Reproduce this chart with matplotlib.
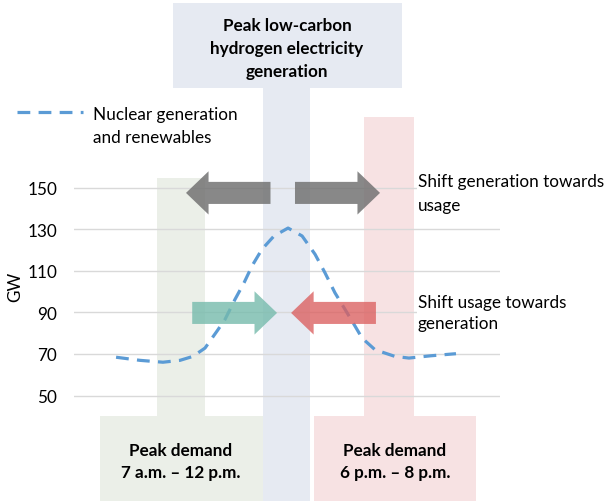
import matplotlib
matplotlib.use('Agg')
import matplotlib.pyplot as plt
from matplotlib.patches import Rectangle, FancyArrow

plt.rcParams['font.family'] = ['Lato', 'DejaVu Sans']

# nuclear generation + renewables (GW) across the day
hours = [2.37, 3.72, 5.01, 5.97, 6.70, 7.38, 8.06, 8.51, 9.07, 9.58, 10.03,
         10.59, 11.27, 12.06, 12.85, 13.58, 14.14, 14.70, 15.27, 15.83,
         16.23, 16.96, 18.08, 18.87, 20.11, 21.52]
gw = [68.4, 66.9, 66, 66.9, 68.8, 72.8, 81, 86.6, 96.2, 104.2, 112.3,
      120.3, 126.7, 130.5, 126.7, 117.9, 109, 99.4, 91.4, 83.4,
      77.6, 72, 68.8, 68, 69.1, 70.1]
yticks = [50, 70, 90, 110, 130, 150]

green_band = '#EBEFE8'
blue_band = '#E6EAF2'
red_band = '#F7E2E3'
line_col = '#5B9BD5'
dash = (0, (4, 2.6))

fig = plt.figure(figsize=(6.06, 5.02), dpi=100)
ax = fig.add_axes([74/606, 84.7/502, 426/606, 249.6/502])
ax.set_xlim(0, 24)
ax.set_ylim(40, 160)

# background bands + label boxes (spill over the axes area)
def rect(x0, x1, y0, y1, c):
  ax.add_patch(Rectangle((x0, y0), x1 - x0, y1 - y0, facecolor=c,
                         edgecolor='none', clip_on=False, zorder=0))

rect(4.68, 7.38, -1, 154.6, green_band)
rect(1.49, 10.62, -1, 40.3, green_band)
rect(10.65, 13.30, -1, 198.3, blue_band)
rect(5.58, 18.48, 197.8, 238.7, blue_band)
rect(16.34, 19.15, -1, 183.9, red_band)
rect(13.52, 22.65, -1, 40.3, red_band)

for t in yticks:
  ax.axhline(t, color='#D9D9D9', lw=1, zorder=1)

ax.plot(hours, gw, color=line_col, lw=2.3, ls=dash, zorder=2)

def arrow(x0, x1, y, c, a):
  ax.add_patch(FancyArrow(x0, y, x1 - x0, 0, width=10.6, head_width=20.8,
                          head_length=1.27, length_includes_head=True,
                          facecolor=c, edgecolor='none', alpha=a,
                          clip_on=False, zorder=3))

arrow(11.07, 6.31, 147.4, '#737373', 0.85)
arrow(12.45, 17.24, 147.4, '#737373', 0.85)
arrow(6.66, 11.44, 89.7, '#76BBAC', 0.8)
arrow(17.01, 12.23, 89.7, '#DB5F5F', 0.78)

fs = 12.3
ax.text(19.38, 147.2, 'Shift generation towards\nusage', fontsize=fs,
        ha='left', va='center', linespacing=1.6, zorder=4,
        bbox=dict(facecolor='white', edgecolor='none', pad=0.5))
ax.text(19.38, 89.8, 'Shift usage towards\ngeneration', fontsize=fs,
        ha='left', va='center', linespacing=1.4, zorder=4,
        bbox=dict(facecolor='white', edgecolor='none', pad=0.5))

ax.plot([-3.21, 0.51], [186.3, 186.3], color=line_col, lw=2.3, ls=dash,
        clip_on=False)
ax.text(1.07, 179.8, 'Nuclear generation\nand renewables', fontsize=fs,
        ha='left', va='center', linespacing=1.5)

ax.text(12.0, 217.2, 'Peak low-carbon\nhydrogen electricity\ngeneration',
        fontsize=fs, fontweight='bold', ha='center', va='center',
        linespacing=1.55)
ax.text(6.03, 18.5, 'Peak demand\n7 a.m. – 12 p.m.', fontsize=fs,
        fontweight='bold', ha='center', va='center', linespacing=1.45)
ax.text(18.08, 18.5, 'Peak demand\n6 p.m. – 8 p.m.', fontsize=fs,
        fontweight='bold', ha='center', va='center', linespacing=1.45)

ax.set_yticks(yticks)
ax.set_yticklabels([str(t) for t in yticks], fontsize=fs)
ax.set_xticks([])
ax.tick_params(axis='y', length=0, pad=12)
for s in ax.spines.values():
  s.set_visible(False)
ax.patch.set_alpha(0)
ax.text(-0.137, 0.522, 'GW', fontsize=fs, rotation=90, ha='center',
        va='center', transform=ax.transAxes)

fig.savefig('out.png', dpi=100)
